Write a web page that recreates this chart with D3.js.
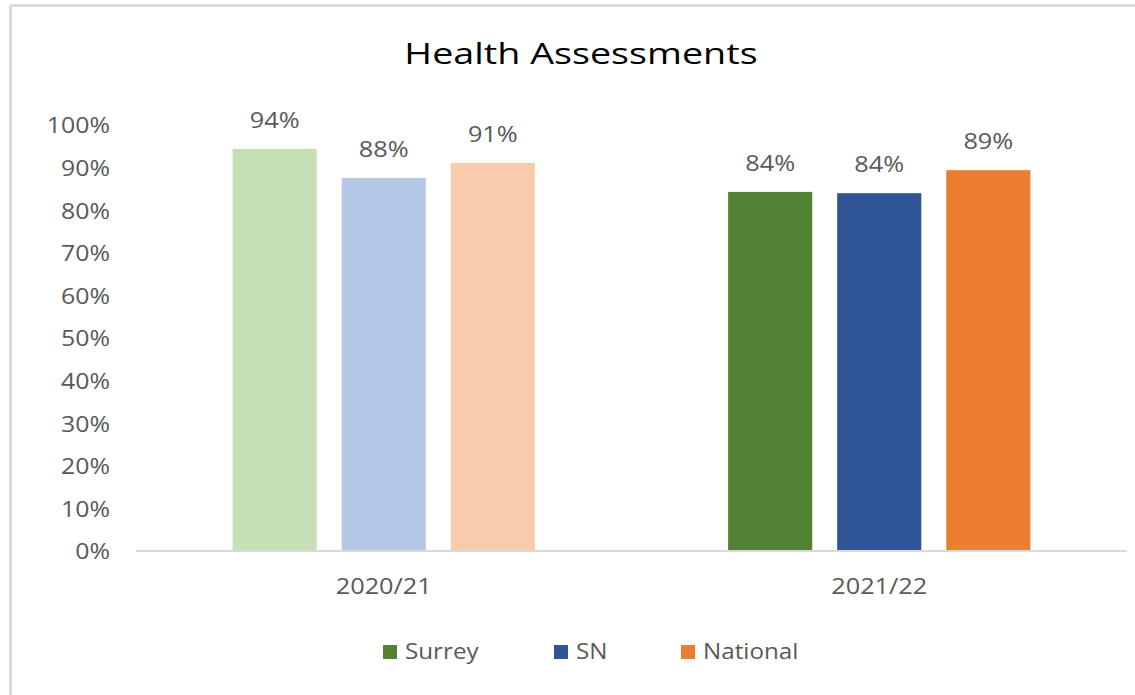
<!DOCTYPE html>
<html>
<head>
<meta charset="utf-8">
<script src="https://cdn.jsdelivr.net/npm/d3@7/dist/d3.min.js"></script>
<style>
  html, body { margin: 0; padding: 0; background: #fff; }
  svg { display: block; }
  text { font-family: "Open Sans", "Noto Sans", sans-serif; }
</style>
</head>
<body>
<svg id="chart" width="1135" height="695"></svg>
<script>
// Health assessment completion rates by year
const categories = ["2020/21", "2021/22"];
const series = ["Surrey", "SN", "National"];
const surrey = [0.944, 0.843];
const sn = [0.876, 0.840];
const national = [0.911, 0.894];
const yTicks = [0, 0.1, 0.2, 0.3, 0.4, 0.5, 0.6, 0.7, 0.8, 0.9, 1.0];

// Faded palette for the earlier year, full palette for the latest year
const fadedColors = ["#C5E0B4", "#B4C7E7", "#F8CBAD"];
const fullColors = ["#548235", "#2F5597", "#ED7D31"];

const valuesBySeries = [surrey, sn, national];
const rows = categories.map((c, ci) => ({
  category: c,
  bars: series.map((s, si) => ({ series: s, si, ci, value: valuesBySeries[si][ci] }))
}));

const svg = d3.select("#chart");
const W = 1135, H = 695;
const textColor = "#595959";
const fmt = d3.format(".0%");

// Widen glyphs horizontally to the chart's wide lettering
function widen(sel, factor) {
  sel.each(function () {
    const len = this.getComputedTextLength();
    d3.select(this).attr("textLength", len * factor).attr("lengthAdjust", "spacingAndGlyphs");
  });
}

// Outer chart frame (top and left edges)
svg.append("line").attr("x1", 10.5).attr("x2", W).attr("y1", 5.5).attr("y2", 5.5)
  .attr("stroke", "#D9D9D9").attr("stroke-width", 3);
svg.append("line").attr("x1", 10.5).attr("x2", 10.5).attr("y1", 5).attr("y2", H)
  .attr("stroke", "#D9D9D9").attr("stroke-width", 3);

const plot = { left: 136, right: 1127, top: 125, bottom: 551 };

const x0 = d3.scaleBand().domain(categories)
  .range([plot.left, plot.right]).paddingInner(0.39).paddingOuter(0.195);
const x1 = d3.scaleBand().domain(series)
  .range([0, x0.bandwidth()]).paddingInner(0.229).paddingOuter(0);
const y = d3.scaleLinear().domain([0, 1]).range([plot.bottom, plot.top]);

// Title
svg.append("text")
  .attr("x", 581).attr("y", 64)
  .attr("text-anchor", "middle")
  .attr("font-size", 29)
  .attr("fill", "#000")
  .text("Health Assessments")
  .call(widen, 1.3);

// Y axis labels
const yAxis = d3.axisLeft(y).tickValues(yTicks).tickFormat(fmt).tickSize(0).tickPadding(0);
const yg = svg.append("g").attr("transform", `translate(${110},0)`).call(yAxis);
yg.select(".domain").remove();
yg.selectAll("text").attr("font-size", 22).attr("fill", textColor)
  .attr("font-family", "'Open Sans', 'Noto Sans', sans-serif").attr("dy", "0.36em")
  .call(widen, 1.13);

// Bars
const groups = svg.append("g").selectAll("g").data(rows).join("g")
  .attr("transform", d => `translate(${x0(d.category)},0)`);

groups.selectAll("rect").data(d => d.bars).join("rect")
  .attr("x", d => x1(d.series))
  .attr("width", x1.bandwidth())
  .attr("y", d => y(d.value))
  .attr("height", d => y(0) - y(d.value))
  .attr("fill", d => (d.ci === 0 ? fadedColors : fullColors)[d.si]);

// Value labels
groups.selectAll("text.val").data(d => d.bars).join("text")
  .attr("class", "val")
  .attr("x", d => x1(d.series) + x1.bandwidth() / 2)
  .attr("y", d => y(d.value) - 21)
  .attr("text-anchor", "middle")
  .attr("font-size", 22)
  .attr("fill", textColor)
  .text(d => fmt(d.value))
  .call(widen, 1.15);

// X axis baseline and category labels
const xAxis = d3.axisBottom(x0).tickSize(0).tickPadding(0);
const xg = svg.append("g").attr("transform", `translate(0,${plot.bottom})`).call(xAxis);
xg.select(".domain").attr("stroke", "#D9D9D9").attr("stroke-width", 2)
  .attr("d", `M${plot.left},0H${plot.right}`);
xg.selectAll("text").attr("font-size", 22).attr("fill", textColor)
  .attr("font-family", "'Open Sans', 'Noto Sans', sans-serif")
  .attr("y", 43).attr("dy", 0)
  .call(widen, 1.15);

// Legend
const legendX = [383, 554, 681];
const legend = svg.append("g").selectAll("g").data(series).join("g")
  .attr("transform", (d, i) => `translate(${legendX[i]},645)`);
legend.append("rect").attr("width", 14).attr("height", 14)
  .attr("fill", (d, i) => fullColors[i]);
legend.append("text").attr("x", 22).attr("y", 14)
  .attr("font-size", 22).attr("fill", textColor).text(d => d)
  .call(widen, 1.1);
</script>
</body>
</html>
